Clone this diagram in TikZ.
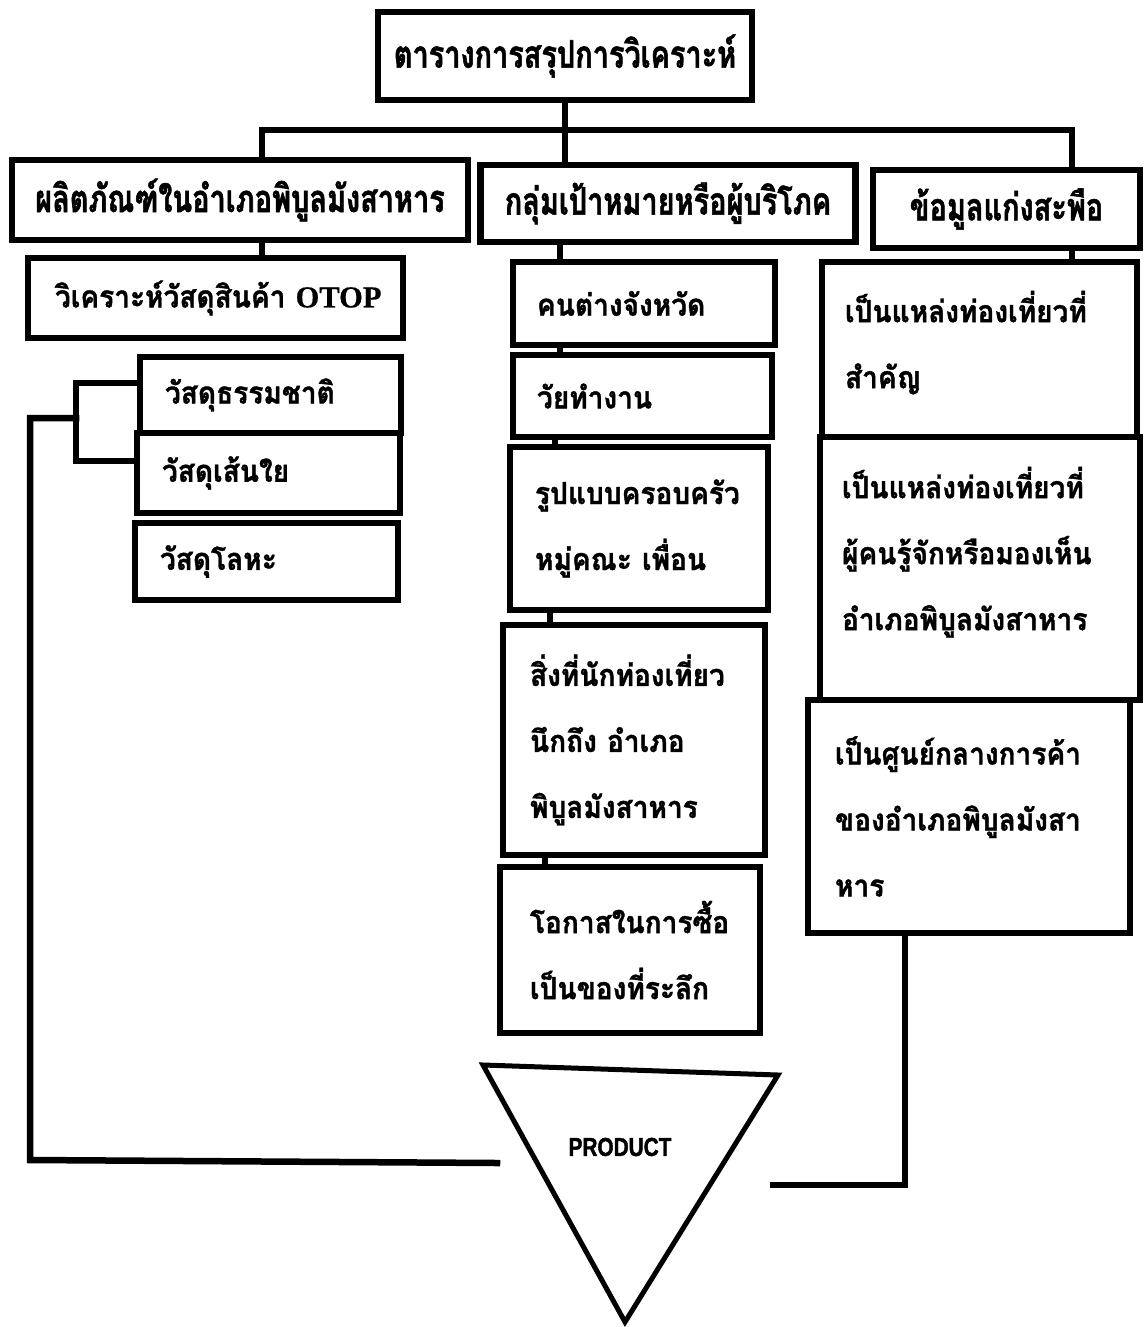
\documentclass[tikz,border=0pt]{standalone}
\usepackage{fontspec}
\newfontfamily\thaifont[Script=Thai,FakeStretch=0.92,FakeBold=1.2]{Loma}
\newfontfamily\thaihead[Script=Thai,FakeStretch=0.76,FakeBold=1.4]{Loma}
\newfontfamily\latinserif[FakeBold=0.6]{Liberation Serif}
\newfontfamily\prodfont[FakeStretch=0.8,FakeBold=1.4]{Liberation Sans}
\begin{document}
\begin{tikzpicture}[x=1pt,y=-1pt,
  box/.style={draw, line width=6.5pt, inner sep=0pt, align=center},
  headbox/.style={box, font=\thaihead\bfseries\fontsize{38}{44}\selectfont},
  bodybox/.style={box, align=left, font=\thaifont\bfseries\fontsize{30.5}{66}\selectfont},
  conn/.style={line width=6.5pt, line cap=rect, line join=miter}]
\useasboundingbox (0,0) rectangle (1146,1327);
% top
\node[headbox, minimum width=374pt, minimum height=88pt] (top) at (565,56) {ตารางการสรุปการวิเคราะห์};
% level 1
\node[headbox, minimum width=456pt, minimum height=80pt] (L1) at (240,200) {ผลิตภัณฑ์ในอำเภอพิบูลมังสาหาร};
\node[headbox, minimum width=375pt, minimum height=77pt] (M1) at (668,203.5) {กลุ่มเป้าหมายหรือผู้บริโภค};
\node[headbox, minimum width=267pt, minimum height=78pt] (R1) at (1006.5,209) {ข้อมูลแก่งสะพือ};
% left column
\node[bodybox, minimum width=375pt, minimum height=80pt, text width=321pt] (L2) at (215.5,298) {\mbox{วิเคราะห์วัสดุสินค้า {\latinserif OTOP}}};
\node[bodybox, minimum width=261pt, minimum height=76pt, text width=211pt] (L3a) at (270.5,395) {วัสดุธรรมชาติ};
\node[bodybox, minimum width=263pt, minimum height=80pt, text width=213pt] (L3b) at (268.5,473) {วัสดุเส้นใย};
\node[bodybox, minimum width=263pt, minimum height=77pt, text width=213pt] (L3c) at (266.5,561.5) {วัสดุโลหะ};
% middle column
\node[bodybox, minimum width=262pt, minimum height=83pt, text width=214pt] (M2) at (644,303.5) {คนต่างจังหวัด};
\node[bodybox, minimum width=259pt, minimum height=82pt, text width=211pt] (M3) at (642.5,396) {วัยทำงาน};
\node[bodybox, minimum width=258pt, minimum height=163pt, text width=208pt] (M4) at (639,528.5) {รูปแบบครอบครัว\\หมู่คณะ เพื่อน};
\node[bodybox, minimum width=262pt, minimum height=230pt, text width=208pt] (M5) at (634,740) {สิ่งที่นักท่องเที่ยว\\นึกถึง อำเภอ\\พิบูลมังสาหาร};
\node[bodybox, minimum width=260pt, minimum height=166pt, text width=200pt] (M6) at (630,950) {โอกาสในการซื้อ\\เป็นของที่ระลึก};
% right column
\node[bodybox, minimum width=315pt, minimum height=175pt, text width=269pt] (R2) at (979.5,349.5) {เป็นแหล่งท่องเที่ยวที่\\สำคัญ\\[-46pt]\mbox{}};
\node[bodybox, minimum width=320pt, minimum height=263pt, text width=276pt] (R3) at (980,568.5) {เป็นแหล่งท่องเที่ยวที่\\ผู้คนรู้จักหรือมองเห็น\\อำเภอพิบูลมังสาหาร\\[-26pt]\mbox{}};
\node[bodybox, minimum width=322pt, minimum height=233pt, text width=268pt] (R4) at (969,816.5) {เป็นศูนย์กลางการค้า\\ของอำเภอพิบูลมังสา\\หาร};
% triangle
\coordinate (t1) at (483,1065);
\coordinate (t2) at (778,1075);
\coordinate (t3) at (625,1322);
\draw[line width=5pt, line join=miter] (t1) -- (t2) -- (t3) -- cycle;
\node[font=\prodfont\bfseries\fontsize{26}{30}\selectfont] (prod) at (620,1147) {PRODUCT};
% connectors
\coordinate (barL) at (262,130);
\coordinate (barR) at (1072,130);
\coordinate (barM) at (565,130);
\draw[conn] (top.south) -- (barM);
\draw[conn] (barL) -- (barR);
\draw[conn] (barL) -- (barL |- L1.north);
\draw[conn] (barM) -- (barM |- M1.north);
\draw[conn] (barR) -- (barR |- R1.north);
\coordinate (cL) at (262,240);
\draw[conn] (L1.south -| cL) -- (L2.north -| cL);
\coordinate (cM) at (560,250);
\draw[conn] (M1.south -| cM) -- (M2.north -| cM);
\draw[conn] (M2.south -| cM) -- (M3.north -| cM);
\coordinate (cM2) at (555,440);
\draw[conn] (M3.south -| cM2) -- (M4.north -| cM2);
\coordinate (cM3) at (550,620);
\draw[conn] (M4.south -| cM3) -- (M5.north -| cM3);
\coordinate (cM4) at (545,860);
\draw[conn] (M5.south -| cM4) -- (M6.north -| cM4);
\draw[conn] (R1.south -| barR) -- (R2.north -| barR);
% bracket on the left
\coordinate (b1) at (76,383);
\coordinate (b2) at (76,461);
\coordinate (b3) at (76,418);
\coordinate (b4) at (30,418);
\coordinate (b5) at (30,1160);
\coordinate (pL) at (497,1163);
\draw[conn] (b1 -| L3a.west) -- (b1) -- (b2) -- (b2 -| L3b.west);
\draw[conn] (b3) -- (b4) -- (b5) -- (pL);
% right return line
\coordinate (r1) at (905,933);
\coordinate (r2) at (905,1185);
\coordinate (pR) at (773,1185);
\draw[conn] (R4.south -| r1) -- (r2) -- (pR);
\end{tikzpicture}
\end{document}
